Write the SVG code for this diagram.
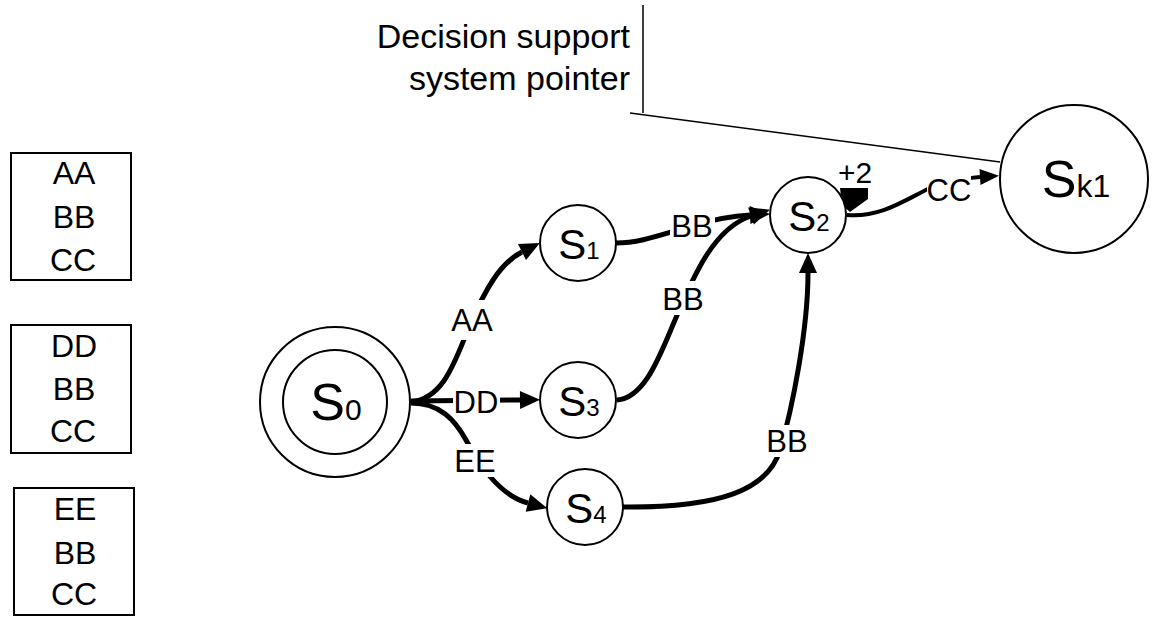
<svg xmlns="http://www.w3.org/2000/svg" width="1155" height="617" viewBox="0 0 1155 617">
<style>
  text { font-family: "Liberation Sans", Arial, sans-serif; fill: #000; }
  .node { fill: #fff; stroke: #000; stroke-width: 2; }
  .box { fill: #fff; stroke: #000; stroke-width: 2; }
  .box-t { font-size: 32px; text-anchor: middle; }
  .edge { fill: none; stroke: #000; stroke-width: 5; }
  .edge-thin { fill: none; stroke: #000; stroke-width: 4; }
  .elabel { font-size: 31px; text-anchor: middle; }
  .lbg { fill: #fff; stroke: none; }
  .st { text-anchor: middle; }
  .ptr { fill: none; stroke: #000; stroke-width: 1.5; }
</style>
<defs>
  <marker id="ah" markerUnits="userSpaceOnUse" markerWidth="22" markerHeight="20" refX="0" refY="9" orient="auto" overflow="visible">
    <path d="M0,0 L20,9 L0,18 z" fill="#000"/>
  </marker>
  <marker id="ahs" markerUnits="userSpaceOnUse" markerWidth="20" markerHeight="18" refX="0" refY="8" orient="auto" overflow="visible">
    <path d="M0,0 L19,8 L0,16 z" fill="#000"/>
  </marker>
</defs>
<rect width="1155" height="617" fill="#fff"/>

<g id="legend-aa">
  <rect class="box" x="11" y="153" width="120" height="127"/>
  <text class="box-t" x="74" y="184">AA</text>
  <text class="box-t" x="74" y="228">BB</text>
  <text class="box-t" x="73" y="271">CC</text>
</g>
<g id="legend-dd">
  <rect class="box" x="11" y="325" width="120" height="128"/>
  <text class="box-t" x="74" y="357">DD</text>
  <text class="box-t" x="74" y="400">BB</text>
  <text class="box-t" x="73" y="442">CC</text>
</g>
<g id="legend-ee">
  <rect class="box" x="14" y="488" width="120" height="127"/>
  <text class="box-t" x="75" y="520">EE</text>
  <text class="box-t" x="75" y="564">BB</text>
  <text class="box-t" x="74" y="605">CC</text>
</g>

<g id="pointer">
  <text x="630" y="48" font-size="34" text-anchor="end">Decision support</text>
  <text x="630" y="90" font-size="34" text-anchor="end">system pointer</text>
  <path class="ptr" d="M643,5 L643,113 M630,113 L1000,162"/>
</g>

<g id="connectors">
  <path class="edge" d="M411,402 C445,398 455,360 470,325 C485,290 500,263 522,252" marker-end="url(#ah)"/>
  <path class="edge" d="M411,401 L520,400" marker-end="url(#ah)"/>
  <path class="edge" d="M411,403 C440,403 455,420 466,440 C478,462 498,495 528,503" marker-end="url(#ah)"/>
  <path class="edge" d="M616,243 C640,243 660,235 692,226 C715,219 730,216 750,215" marker-end="url(#ah)"/>
  <path class="edge" d="M617,400 C645,398 660,355 675,320 C695,272 715,228 751,216" marker-end="url(#ah)"/>
  <path class="edge" d="M622,507 C720,508 768,490 780,450 C792,410 808,330 808,273" marker-end="url(#ah)"/>
  <path class="edge-thin" d="M847,215 C880,218 905,200 930,188 C950,180 965,178 980,177" marker-end="url(#ahs)"/>
  <polygon points="840,188 868,188 868,199 850,212 842,205" fill="#000"/>

  <rect class="lbg" x="450" y="300" width="45" height="40"/>
  <text class="elabel" x="472" y="331">AA</text>
  <rect class="lbg" x="453" y="387" width="47" height="29"/>
  <text class="elabel" x="476" y="413">DD</text>
  <rect class="lbg" x="455" y="444" width="40" height="33"/>
  <text class="elabel" x="475" y="472">EE</text>
  <rect class="lbg" x="670" y="212" width="45" height="28"/>
  <text class="elabel" x="692" y="237">BB</text>
  <rect class="lbg" x="661" y="281" width="45" height="34"/>
  <text class="elabel" x="683" y="310">BB</text>
  <rect class="lbg" x="764" y="425" width="46" height="32"/>
  <text class="elabel" x="787" y="452">BB</text>
  <rect class="lbg" x="927" y="172" width="44" height="32"/>
  <text class="elabel" x="949" y="201">CC</text>
  <text x="855" y="183" font-size="30" text-anchor="middle">+2</text>
</g>

<g id="s0">
  <circle class="node" cx="335" cy="402" r="75"/>
  <circle class="node" cx="335" cy="402" r="52"/>
  <text class="st" x="336" y="420"><tspan font-size="52">S</tspan><tspan font-size="30">0</tspan></text>
</g>
<g id="s1">
  <circle class="node" cx="578" cy="243" r="38"/>
  <text class="st" x="579" y="259"><tspan font-size="42">S</tspan><tspan font-size="24">1</tspan></text>
</g>
<g id="s2">
  <circle class="node" cx="808" cy="215" r="38"/>
  <text class="st" x="809" y="231"><tspan font-size="42">S</tspan><tspan font-size="24">2</tspan></text>
</g>
<g id="s3">
  <circle class="node" cx="578" cy="400" r="38"/>
  <text class="st" x="579" y="416"><tspan font-size="42">S</tspan><tspan font-size="24">3</tspan></text>
</g>
<g id="s4">
  <circle class="node" cx="585" cy="507" r="38"/>
  <text class="st" x="586" y="523"><tspan font-size="42">S</tspan><tspan font-size="24">4</tspan></text>
</g>
<g id="sk1">
  <circle class="node" cx="1074" cy="179" r="74"/>
  <text class="st" x="1076" y="197"><tspan font-size="52">S</tspan><tspan font-size="32">k1</tspan></text>
</g>
</svg>
